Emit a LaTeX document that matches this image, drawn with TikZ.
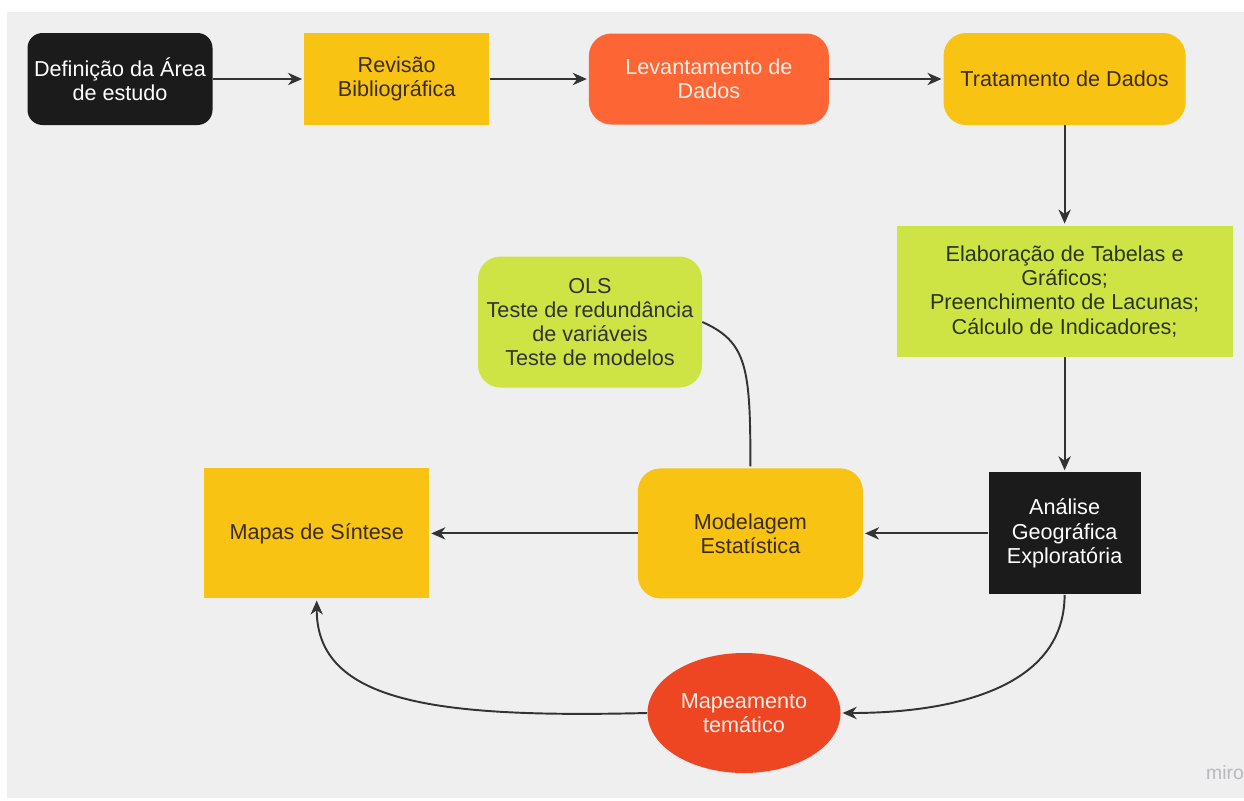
\documentclass[tikz,border=0pt]{standalone}
\usepackage{fontspec}
\setmainfont{Liberation Sans}
\usetikzlibrary{positioning, arrows.meta, shapes.geometric}

\definecolor{fundo}{HTML}{EFEFEF}
\definecolor{preto}{HTML}{1B1B1B}
\definecolor{amarelo}{HTML}{F8C313}
\definecolor{laranja}{HTML}{FE6535}
\definecolor{lima}{HTML}{CEE445}
\definecolor{vermelho}{HTML}{EE4623}
\definecolor{linha}{HTML}{333333}
\definecolor{marrom}{HTML}{3B2C14}
\definecolor{oliva}{HTML}{2C3412}
\definecolor{claro}{HTML}{FFF0E8}
\definecolor{cinza}{HTML}{B8B8BE}

\begin{document}
\begin{tikzpicture}[
    ->,                  % Ponta de seta nas ligações
    >={Stealth[length=8pt, width=7pt, inset=2.5pt]}, % Estilo da seta
    shorten >=1pt,       % Espaço pequeno antes de tocar o nó
    every edge/.append style={draw=linha, line width=1.1pt},
    liga/.style={draw=linha, line width=1.1pt},
    caixa/.style={rectangle, fill=amarelo, text=marrom, align=center, inner sep=2pt,
                  font=\fontsize{12.3}{13.8}\selectfont, minimum width=4.5cm, minimum height=2.6cm},
    arred/.style={rounded corners=0.45cm},
    oval/.style={ellipse, fill=vermelho, text=claro, align=center, inner sep=0pt,
                 font=\fontsize{12.3}{13.8}\selectfont, minimum width=3.86cm, minimum height=2.4cm}
  ]

  % --- FUNDO ---
  \useasboundingbox (0,0) rectangle (24.88,-16.02);
  \fill[fundo, -] (0.14,-0.24) rectangle (24.88,-15.96);

  % --- ETAPAS ---
  \node[caixa, rounded corners=0.3cm, fill=preto, text=white, minimum width=3.7cm, minimum height=1.84cm]
        (def) at (2.40,-1.58) {Definição da Área\\de estudo};
  \node[caixa, minimum width=3.7cm, minimum height=1.84cm, right=1.82cm of def] (rev) {Revisão\\Bibliográfica};
  \node[caixa, arred, fill=laranja, text=claro, minimum width=4.8cm, minimum height=1.82cm, right=1.98cm of rev]
        (lev) {Levantamento de\\Dados};
  \node[caixa, arred, minimum width=4.84cm, minimum height=1.84cm, right=2.28cm of lev] (trat) {Tratamento de Dados};
  \node[caixa, fill=lima, text=oliva, minimum width=6.72cm, minimum height=2.62cm, below=2.0cm of trat]
        (elab) {Elaboração de Tabelas e\\Gráficos;\\Preenchimento de Lacunas;\\Cálculo de Indicadores;};
  \node[caixa, fill=preto, text=white, minimum width=3.04cm, minimum height=2.44cm, below=2.3cm of elab]
        (ana) {Análise\\Geográfica\\Exploratória};
  \node[caixa, arred, left=2.5cm of ana] (mod) {Modelagem\\Estatística};
  \node[caixa, left=4.16cm of mod] (mapas) {Mapas de Síntese};
  \node[caixa, arred, fill=lima, text=linha, minimum width=4.48cm, minimum height=2.62cm]
        (ols) at (11.80,-6.44) {OLS\\Teste de redundância\\de variáveis\\Teste de modelos};
  \node[oval] (mapt) at (14.88,-14.26) {Mapeamento\\temático};

  \node[text=cinza, font=\fontsize{11}{11}\selectfont] (miro) at (24.5,-15.46) {miro};

  % --- LIGAÇÕES ---
  \path (def) edge (rev)
        (rev) edge (lev)
        (lev) edge (trat)
        (trat) edge (elab)
        (elab) edge (ana)
        (ana) edge (mod)
        (mod) edge (mapas);

  \draw[liga, -] (ols.east) .. controls +(0.9,-0.4) and +(0,2.0) .. (mod.north);
  \path (ana) edge[out=-90, in=0] (mapt);
  \draw[liga] (mapt.west) .. controls +(-4.16,-0.1) and +(0,-2.1) .. (mapas.south);

\end{tikzpicture}
\end{document}
